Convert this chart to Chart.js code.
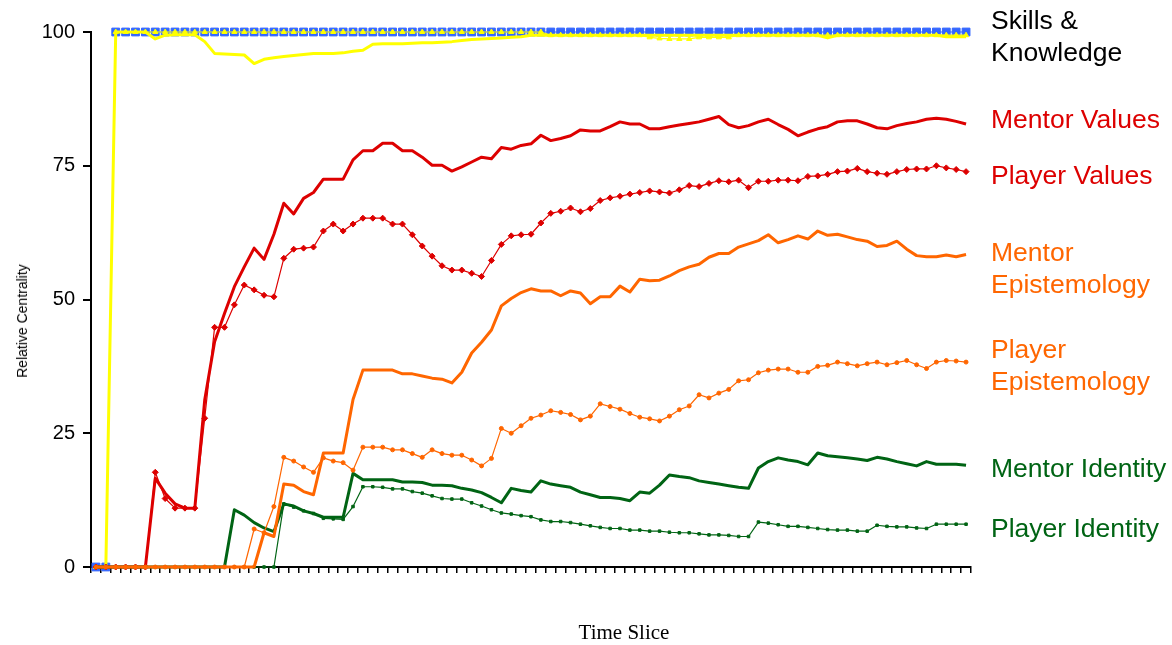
<!DOCTYPE html>
<html>
<head>
<meta charset="utf-8">
<script src="https://cdn.jsdelivr.net/npm/chart.js@4.4.1/dist/chart.umd.min.js"></script>
<style>
  html, body { margin: 0; padding: 0; background: #fff; }
  #wrap { position: relative; width: 1172px; height: 645px; overflow: hidden; }
  canvas { position: absolute; left: 0; top: 0; }
  .lbl { position: absolute; left: 991px; font-family: "Liberation Sans", Arial, sans-serif; font-size: 26.5px; line-height: 32px; white-space: nowrap; }
  .ytitle { position: absolute; font-family: "Liberation Sans", Arial, sans-serif; font-size: 14px; line-height: 16px; white-space: nowrap; transform: translate(-50%, -50%) rotate(-90deg); left: 22px; top: 321px; }
  .xtitle { position: absolute; font-family: "Liberation Serif", "Times New Roman", serif; font-size: 21px; line-height: 24px; white-space: nowrap; transform: translate(-50%, -50%); left: 624px; top: 632px; }
</style>
</head>
<body>
<div id="wrap">
  <canvas id="c" width="1172" height="645"></canvas>
  <div class="ytitle">Relative Centrality</div>
  <div class="xtitle">Time Slice</div>
  <div class="lbl" style="top:4px;color:#000;">Skills &amp;<br>Knowledge</div>
  <div class="lbl" style="top:103px;color:#DD0000;">Mentor Values</div>
  <div class="lbl" style="top:159px;color:#DD0000;">Player Values</div>
  <div class="lbl" style="top:236px;color:#FF6600;">Mentor<br>Epistemology</div>
  <div class="lbl" style="top:333px;color:#FF6600;">Player<br>Epistemology</div>
  <div class="lbl" style="top:452px;color:#006414;">Mentor Identity</div>
  <div class="lbl" style="top:512px;color:#006414;">Player Identity</div>
</div>
<script>
const timeSlices = [1,2,3,4,5,6,7,8,9,10,11,12,13,14,15,16,17,18,19,20,21,22,23,24,25,26,27,28,29,30,31,32,33,34,35,36,37,38,39,40,41,42,43,44,45,46,47,48,49,50,51,52,53,54,55,56,57,58,59,60,61,62,63,64,65,66,67,68,69,70,71,72,73,74,75,76,77,78,79,80,81,82,83,84,85,86,87,88,89];

const yTicks = [0, 25, 50, 75, 100];

const skillsReference = [0,0,100,100,100,100,100,100,100,100,100,100,100,100,100,100,100,100,100,100,100,100,100,100,100,100,100,100,100,100,100,100,100,100,100,100,100,100,100,100,100,100,100,100,100,100,100,100,100,100,100,100,100,100,100,100,100,100,100,100,100,100,100,100,100,100,100,100,100,100,100,100,100,100,100,100,100,100,100,100,100,100,100,100,100,100,100,100,100];

const mentorSkills = [0,0,100,100,100,100,98.7,99.4,99.5,99.5,99.5,98.2,96.0,95.9,95.8,95.7,94.1,94.9,95.2,95.4,95.6,95.8,96.0,96.0,96.0,96.1,96.4,96.6,97.7,97.8,97.8,97.8,97.9,98.0,98.0,98.1,98.2,98.4,98.6,98.7,98.8,98.9,99.0,99.1,99.4,99.4,99.4,99.4,99.4,99.4,99.4,99.4,99.4,99.4,99.4,99.4,99.4,99.4,99.4,99.4,99.4,99.4,99.4,99.4,99.4,99.4,99.4,99.4,99.4,99.4,99.4,99.4,99.4,99.4,98.9,99.4,99.4,99.4,99.4,99.4,99.4,99.4,99.4,99.4,99.4,99.4,99.1,99.1,99.1];

const playerSkills = [0,0,100,100,100,100,100,100,100,100,100,100,100,100,100,100,100,100,100,100,100,100,100,100,100,100,100,100,100,100,100,100,100,100,100,100,100,100,100,100,100,100,100,100,100,100,99.4,99.4,99.4,99.4,99.4,99.4,99.4,99.4,99.4,99.4,99.0,98.8,98.7,98.7,98.7,99.0,99.0,99.0,99.0,99.4,99.4,99.4,99.4,99.4,99.4,99.4,99.4,99.4,99.4,99.4,99.4,99.4,99.4,99.4,99.4,99.4,99.4,99.4,99.4,99.4,99.4,99.4,99.4];

const mentorValues = [0,0,0,0,0,0,16.6,13.8,11.8,11.0,11.0,31.2,42.1,47.4,52.4,56.1,59.6,57.5,62.2,68.0,66.0,68.9,70.0,72.5,72.5,72.5,76.1,77.8,77.8,79.2,79.2,77.8,77.8,76.6,75.1,75.1,74.0,74.8,75.7,76.6,76.3,78.4,78.1,78.8,79.1,80.7,79.7,80.1,80.6,81.7,81.5,81.5,82.3,83.2,82.8,82.8,81.9,81.9,82.3,82.6,82.9,83.2,83.7,84.2,82.7,82.1,82.5,83.2,83.7,82.7,81.8,80.6,81.3,81.9,82.3,83.2,83.4,83.4,82.8,82.1,81.9,82.5,82.9,83.2,83.7,83.9,83.7,83.3,82.8];

const playerValues = [0,0,0,0,0,0,17.7,12.8,11.0,11.0,11.0,27.8,44.8,44.8,49.0,52.7,51.8,50.8,50.5,57.7,59.4,59.6,59.8,62.8,64.1,62.8,64.1,65.2,65.2,65.2,64.1,64.1,62.1,60.0,58.1,56.3,55.5,55.5,54.9,54.3,57.3,60.3,61.9,62.1,62.2,64.3,66.1,66.5,67.1,66.4,67.0,68.5,69.0,69.3,69.7,70.0,70.3,70.1,69.9,70.5,71.3,71.1,71.7,72.2,72.0,72.3,70.9,72.1,72.1,72.3,72.3,72.2,73.0,73.1,73.4,73.9,74.0,74.5,73.9,73.6,73.4,73.9,74.3,74.4,74.4,75.0,74.6,74.3,73.9];

const mentorEpistemology = [0,0,0,0,0,0,0,0,0,0,0,0,0,0,0,0,0,6.4,5.7,15.5,15.3,14.1,13.5,21.3,21.3,21.3,31.3,36.8,36.8,36.8,36.8,36.1,36.1,35.7,35.3,35.1,34.4,36.4,40.0,42.0,44.3,48.8,50.2,51.3,52.0,51.6,51.6,50.7,51.6,51.2,49.2,50.5,50.5,52.5,51.4,53.8,53.5,53.6,54.4,55.4,56.1,56.6,57.9,58.6,58.6,59.8,60.4,61.0,62.1,60.6,61.2,61.9,61.3,62.8,62.0,62.2,61.7,61.2,60.9,59.9,60.1,60.9,59.4,58.2,58.0,58.0,58.3,58.0,58.4];

const playerEpistemology = [0,0,0,0,0,0,0,0,0,0,0,0,0,0,0,0,7.1,6.4,11.3,20.5,19.8,18.7,17.7,20.4,19.8,19.5,18.1,22.4,22.4,22.4,21.9,21.9,21.2,20.5,21.9,21.2,20.9,20.9,20.0,18.9,20.3,25.9,25.0,26.4,27.8,28.4,29.2,28.9,28.5,27.5,28.2,30.5,30.0,29.5,28.7,28.0,27.7,27.3,28.2,29.4,30.1,32.2,31.6,32.5,33.2,34.8,35.0,36.3,36.8,37.0,37.0,36.4,36.4,37.5,37.7,38.3,38.0,37.6,38.0,38.3,37.8,38.2,38.6,37.8,37.1,38.3,38.6,38.5,38.3];

const mentorIdentity = [0,0,0,0,0,0,0,0,0,0,0,0,0,0,10.7,9.7,8.3,7.3,6.6,11.8,11.4,10.5,10.0,9.3,9.3,9.3,17.5,16.3,16.3,16.3,16.3,15.9,15.9,15.8,15.3,15.3,15.2,14.7,14.4,13.9,13.0,12.0,14.7,14.3,14.0,16.1,15.5,15.2,14.9,14.0,13.5,13.0,13.0,12.8,12.4,14.0,13.8,15.3,17.2,16.9,16.7,16.1,15.8,15.5,15.2,14.9,14.7,18.5,19.7,20.4,20.0,19.7,19.1,21.3,20.8,20.6,20.4,20.2,19.9,20.5,20.2,19.7,19.3,18.9,19.7,19.2,19.2,19.2,19.0];

const playerIdentity = [0,0,0,0,0,0,0,0,0,0,0,0,0,0,0,0,0,0,0,11.8,11.2,10.5,10.0,9.1,9.0,8.9,11.3,15.0,15.0,14.9,14.6,14.6,14.1,13.8,13.3,12.8,12.7,12.7,12.0,11.4,10.7,10.1,9.9,9.6,9.4,8.8,8.5,8.5,8.3,8.0,7.7,7.4,7.2,7.2,6.9,6.9,6.7,6.7,6.5,6.4,6.4,6.2,6.0,6.0,5.9,5.7,5.7,8.4,8.2,7.9,7.6,7.6,7.4,7.2,7.0,6.9,6.9,6.7,6.7,7.8,7.6,7.5,7.5,7.3,7.2,8.0,8.0,8.0,8.0];

const RED = '#DD0000', ORANGE = '#FF6600', GREEN = '#006414', YELLOW = '#FFFF00', BLUE = '#3366FF';

function thick(label, data, color) {
  return { label, data, borderColor: color, backgroundColor: color, borderWidth: 3, pointRadius: 0, tension: 0, clip: false };
}
function thin(label, data, color, style, r) {
  return { label, data, borderColor: color, backgroundColor: color, borderWidth: 1.2, pointStyle: style, pointRadius: r, pointBorderWidth: 1, pointBackgroundColor: color, pointBorderColor: color, tension: 0, clip: false };
}

const datasets = [
  thin('Player Epistemology', playerEpistemology, ORANGE, 'circle', 2),
  thick('Mentor Epistemology', mentorEpistemology, ORANGE),
  thin('Player Identity', playerIdentity, GREEN, 'rect', 1.8),
  thick('Mentor Identity', mentorIdentity, GREEN),
  thin('Player Values', playerValues, RED, 'rectRot', 3),
  thick('Mentor Values', mentorValues, RED),
  thin('Player Skills & Knowledge', playerSkills, YELLOW, 'triangle', 3),
  thick('Mentor Skills & Knowledge', mentorSkills, YELLOW),
  thin('Skills & Knowledge (reference)', skillsReference, BLUE, 'rect', 5.5)
];

new Chart(document.getElementById('c'), {
  type: 'line',
  data: { labels: timeSlices, datasets },
  options: {
    responsive: false,
    animation: false,
    devicePixelRatio: 1,
    layout: { padding: { top: 32, right: 201, left: 0, bottom: 0 } },
    plugins: { legend: { display: false }, tooltip: { enabled: false } },
    elements: { line: { borderJoinStyle: 'round' } },
    scales: {
      x: {
        type: 'category',
        offset: true,
        grid: { offset: true, drawOnChartArea: false, drawTicks: true, tickLength: 6, lineWidth: 1.5, color: '#000' },
        border: { display: true, color: '#000', width: 2 },
        ticks: { display: false, autoSkip: false },
        afterFit: (s) => { s.height = 78; }
      },
      y: {
        min: 0, max: 100,
        afterBuildTicks: (s) => { s.ticks = yTicks.map(v => ({ value: v })); },
        grid: { drawOnChartArea: false, drawTicks: true, tickLength: 8, lineWidth: 2, color: '#000' },
        border: { display: true, color: '#000', width: 2 },
        ticks: { color: '#000', padding: 8, font: { family: '"Liberation Sans", Arial, sans-serif', size: 20 } },
        afterFit: (s) => { s.width = 91; }
      }
    }
  }
});
</script>
</body>
</html>
